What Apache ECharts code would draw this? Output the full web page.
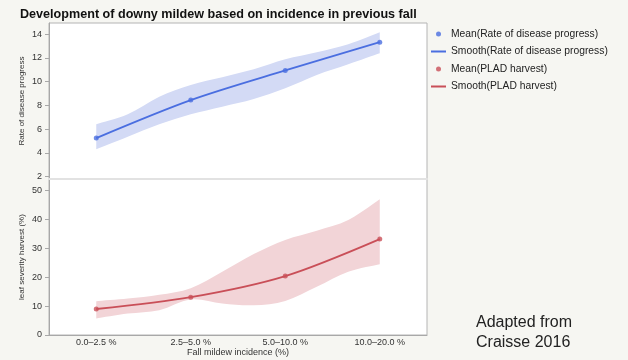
<!DOCTYPE html>
<html><head><meta charset="utf-8">
<script src="https://cdn.jsdelivr.net/npm/echarts@6/dist/echarts.min.js"></script>
<style>html,body{margin:0;padding:0;background:#f6f6f2}#c{width:628px;height:360px}</style>
</head><body><div id="c"></div>
<script>
const categories = ['0.0–2.5 %', '2.5–5.0 %', '5.0–10.0 %', '10.0–20.0 %'];
const rateMean = [5.25, 8.45, 10.95, 13.33];
const pladMean = [9.0, 13.1, 20.4, 33.2];
const bandX = [0, 1/3, 2/3, 1, 4/3, 5/3, 2, 7/3, 8/3, 3];
const rateUpper = [6.42, 7.26, 8.74, 9.73, 10.38, 11.05, 11.89, 12.48, 13.16, 14.17];
const rateLower = [4.31, 5.37, 6.42, 7.26, 7.9, 8.55, 9.45, 10.57, 11.47, 12.4];
const pladUpper = [11.7, 12.6, 13.9, 16.2, 21.9, 28.0, 32.9, 36.1, 39.8, 47.0];
const pladLower = [5.7, 7.4, 8.6, 12.3, 10.9, 10.3, 11.8, 16.7, 21.9, 24.5];
const rateTicks = [2, 4, 6, 8, 10, 12, 14];
const pladTicks = [0, 10, 20, 30, 40, 50];

const BLUE = '#4a6ee0', RED = '#c94f58';
const FONT = '"Liberation Sans", Arial, sans-serif';
const xIdx = categories.map((c, i) => i);
const pairs = (xs, ys) => xs.map((x, i) => [x, ys[i]]);

// Catmull-Rom curve through given pixel points, as bezier path commands
function curve(pts) {
  let d = '';
  for (let i = 0; i < pts.length - 1; i++) {
    const p0 = pts[Math.max(i - 1, 0)], p1 = pts[i], p2 = pts[i + 1], p3 = pts[Math.min(i + 2, pts.length - 1)];
    const t = 1 / 6;
    const c1 = [p1[0] + (p2[0] - p0[0]) * t, p1[1] + (p2[1] - p0[1]) * t];
    const c2 = [p2[0] - (p3[0] - p1[0]) * t, p2[1] - (p3[1] - p1[1]) * t];
    d += ' C' + c1[0] + ' ' + c1[1] + ' ' + c2[0] + ' ' + c2[1] + ' ' + p2[0] + ' ' + p2[1];
  }
  return d;
}

function band(gi, lower, upper, color) {
  return {
    type: 'custom', xAxisIndex: gi, yAxisIndex: gi, silent: true, z: 1,
    data: bandX.map((x, i) => [x, lower[i], upper[i]]),
    encode: {x: 0, y: [1, 2]},
    renderItem: function (params, api) {
      if (params.dataIndex !== 0) return null;
      const up = bandX.map((x, i) => api.coord([x, upper[i]]));
      const lo = bandX.map((x, i) => api.coord([x, lower[i]])).reverse();
      const d = 'M' + up[0][0] + ' ' + up[0][1] + curve(up) + ' L' + lo[0][0] + ' ' + lo[0][1] + curve(lo) + ' Z';
      return {type: 'path', shape: {pathData: d}, style: {fill: color}};
    }
  };
}

const chart = echarts.init(document.getElementById('c'), null, {renderer: 'canvas'});
const yAxisBase = (gi, name, ticks, min, max) => ({
  gridIndex: gi, type: 'value', min: min, max: max, name: name, nameLocation: 'middle', nameGap: 23,
  nameMoveOverlap: false,
  nameTextStyle: {fontSize: 8, color: '#333', fontFamily: FONT},
  axisLine: {show: true, onZero: false, lineStyle: {color: '#a8a8a8'}},
  axisTick: {show: true, length: 4, customValues: ticks, lineStyle: {color: '#a8a8a8'}},
  axisLabel: {customValues: ticks, fontSize: 9, color: '#333', margin: 7, fontFamily: FONT},
  splitLine: {show: false}
});

chart.setOption({
  backgroundColor: '#f6f6f2',
  animation: false,
  textStyle: {fontFamily: FONT},
  title: {text: 'Development of downy mildew based on incidence in previous fall', left: 15, top: 3,
    textStyle: {fontSize: 12.6, fontWeight: 'bold', color: '#111', fontFamily: FONT}},
  legend: {
    orient: 'vertical', left: 431, top: 28, padding: 0, itemWidth: 15, itemHeight: 5, itemGap: 5.5,
    textStyle: {fontSize: 10.3, color: '#222', lineHeight: 12, fontFamily: FONT},
    data: [
      {name: 'Mean(Rate of disease progress)', icon: 'circle'},
      {name: 'Smooth(Rate of disease progress)', icon: 'path://M0,0H15V2H0Z'},
      {name: 'Mean(PLAD harvest)', icon: 'circle'},
      {name: 'Smooth(PLAD harvest)', icon: 'path://M0,0H15V2H0Z'}
    ]
  },
  grid: [
    {left: 49, top: 23, width: 378, height: 156, show: true, backgroundColor: '#fff', borderColor: '#b4b4b4'},
    {left: 49, top: 179, width: 378, height: 156, show: true, backgroundColor: '#fff', borderColor: '#b4b4b4'}
  ],
  xAxis: [
    {gridIndex: 0, type: 'value', min: -0.5, max: 3.5, axisLine: {show: true, onZero: false, lineStyle: {color: '#e2e2e2', width: 2}},
     axisTick: {show: false}, axisLabel: {show: false}, splitLine: {show: false}},
    {gridIndex: 1, type: 'value', min: -0.5, max: 3.5, name: 'Fall mildew incidence (%)', nameLocation: 'middle', nameGap: 13.5,
     nameTextStyle: {fontSize: 9, color: '#333', fontFamily: FONT},
     axisLine: {show: true, onZero: false, lineStyle: {color: '#a8a8a8'}}, axisTick: {show: false},
     axisLabel: {customValues: xIdx, formatter: v => categories[Math.round(v)], fontSize: 9, color: '#333', margin: 3, fontFamily: FONT},
     splitLine: {show: false}}
  ],
  yAxis: [
    yAxisBase(0, 'Rate of disease progress', rateTicks, 1.8, 14.95),
    yAxisBase(1, 'leaf severity harvest (%)', pladTicks, 0, 54)
  ],
  graphic: [
    {type: 'text', left: 476, top: 313, style: {text: 'Adapted from\nCraisse 2016', font: '16px ' + FONT, fill: '#222', lineHeight: 20}}
  ],
  series: [
    band(0, rateLower, rateUpper, '#d3daf5'),
    band(1, pladLower, pladUpper, '#f2d4d7'),
    {name: 'Smooth(Rate of disease progress)', type: 'line', xAxisIndex: 0, yAxisIndex: 0, data: pairs(xIdx, rateMean),
     smooth: 0.3, symbol: 'none', lineStyle: {color: BLUE, width: 1.8}, itemStyle: {color: BLUE}, z: 4},
    {name: 'Mean(Rate of disease progress)', type: 'scatter', xAxisIndex: 0, yAxisIndex: 0, data: pairs(xIdx, rateMean),
     symbolSize: 5, itemStyle: {color: BLUE}, z: 5},
    {name: 'Smooth(PLAD harvest)', type: 'line', xAxisIndex: 1, yAxisIndex: 1, data: pairs(xIdx, pladMean),
     smooth: 0.3, symbol: 'none', lineStyle: {color: RED, width: 1.8}, itemStyle: {color: RED}, z: 4},
    {name: 'Mean(PLAD harvest)', type: 'scatter', xAxisIndex: 1, yAxisIndex: 1, data: pairs(xIdx, pladMean),
     symbolSize: 5, itemStyle: {color: RED}, z: 5}
  ]
});
</script></body></html>
